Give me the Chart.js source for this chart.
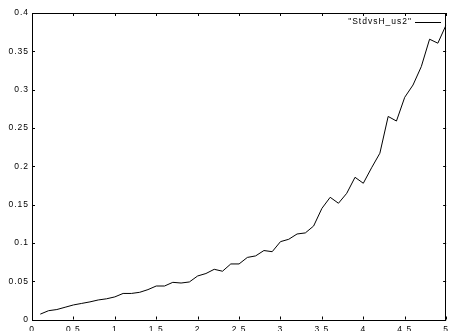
<!DOCTYPE html>
<html>
<head>
<meta charset="utf-8">
<script src="https://cdn.jsdelivr.net/npm/chart.js@4/dist/chart.umd.min.js"></script>
<style>
  html, body { margin: 0; padding: 0; background: #fff; }
  canvas { display: block; }
</style>
</head>
<body>
<canvas id="chart" width="454" height="331"></canvas>
<script>
// data (x step 0.1)
const xValues = [0.1, 0.2, 0.3, 0.4, 0.5, 0.6, 0.7, 0.8, 0.9, 1.0,
                 1.1, 1.2, 1.3, 1.4, 1.5, 1.6, 1.7, 1.8, 1.9, 2.0,
                 2.1, 2.2, 2.3, 2.4, 2.5, 2.6, 2.7, 2.8, 2.9, 3.0,
                 3.1, 3.2, 3.3, 3.4, 3.5, 3.6, 3.7, 3.8, 3.9, 4.0,
                 4.1, 4.2, 4.3, 4.4, 4.5, 4.6, 4.7, 4.8, 4.9, 5.0];
const stdValues = [0.007, 0.0115, 0.013, 0.016, 0.019, 0.021, 0.023, 0.0255, 0.027, 0.0295,
                   0.034, 0.034, 0.0355, 0.039, 0.0437, 0.0437, 0.0485, 0.0476, 0.049, 0.0568,
                   0.060, 0.0655, 0.063, 0.0725, 0.0725, 0.081, 0.083, 0.090, 0.0885, 0.1016,
                   0.1047, 0.1116, 0.113, 0.122, 0.145, 0.1595, 0.1517, 0.1647, 0.1856, 0.1778,
                   0.198, 0.217, 0.265, 0.259, 0.290, 0.306, 0.330, 0.3658, 0.3606, 0.3845];
const xTicks = [0, 0.5, 1, 1.5, 2, 2.5, 3, 3.5, 4, 4.5, 5];
const yTicks = [0, 0.05, 0.1, 0.15, 0.2, 0.25, 0.3, 0.35, 0.4];
const seriesLabel = '"StdvsH_us2"';

const FONT = { family: '"Liberation Sans", Arial, sans-serif', size: 8.5 };

// gnuplot-ish frame: box, inward ticks on all sides, key at top right
const gnuplotFrame = {
  id: 'gnuplotFrame',
  beforeLayout(chart) {
    chart.ctx.letterSpacing = '1px';
  },
  afterDraw(chart) {
    const ctx = chart.ctx;
    const a = chart.chartArea;
    const xs = chart.scales.x, ys = chart.scales.y;
    ctx.save();
    ctx.strokeStyle = '#000';
    ctx.lineWidth = 1;
    ctx.strokeRect(Math.round(a.left) + 0.5, Math.round(a.top) + 0.5,
                   Math.round(a.right - a.left) - 1, Math.round(a.bottom - a.top));
    ctx.beginPath();
    xs.ticks.forEach(t => {
      const px = Math.round(xs.getPixelForValue(t.value)) + 0.5;
      ctx.moveTo(px, a.bottom); ctx.lineTo(px, a.bottom - 3);
      ctx.moveTo(px, a.top); ctx.lineTo(px, a.top + 3);
    });
    ys.ticks.forEach(t => {
      const py = Math.round(ys.getPixelForValue(t.value)) + 0.5;
      ctx.moveTo(a.left, py); ctx.lineTo(a.left + 3, py);
      ctx.moveTo(a.right, py); ctx.lineTo(a.right - 3, py);
    });
    ctx.stroke();

    // key
    const ds = chart.data.datasets[0];
    ctx.font = FONT.size + 'px ' + FONT.family;
    ctx.letterSpacing = '1px';
    ctx.fillStyle = '#000';
    ctx.textAlign = 'right';
    ctx.textBaseline = 'middle';
    ctx.fillText(ds.label, 412, 22);
    ctx.beginPath();
    ctx.strokeStyle = ds.borderColor;
    ctx.moveTo(415, 22.5); ctx.lineTo(441, 22.5);
    ctx.stroke();
    ctx.restore();
  }
};

new Chart(document.getElementById('chart'), {
  type: 'line',
  data: {
    datasets: [{
      label: seriesLabel,
      data: xValues.map((x, i) => ({ x: x, y: stdValues[i] })),
      borderColor: '#000',
      borderWidth: 1,
      pointRadius: 0,
      tension: 0,
      fill: false
    }]
  },
  options: {
    responsive: false,
    animation: false,
    layout: { padding: { top: 13, right: 2, left: 0, bottom: 0 } },
    plugins: { legend: { display: false }, tooltip: { enabled: false } },
    scales: {
      x: {
        type: 'linear',
        min: 0, max: 5,
        afterBuildTicks(s) { s.ticks = xTicks.map(v => ({ value: v })); },
        afterFit(s) { s.height = 11.5; },
        grid: { display: false, drawTicks: false },
        border: { display: false },
        ticks: {
          padding: 5,
          color: '#000',
          font: FONT,
          maxRotation: 0,
          autoSkip: false,
          callback: v => String(v)
        }
      },
      y: {
        min: 0, max: 0.4,
        afterBuildTicks(s) { s.ticks = yTicks.map(v => ({ value: v })); },
        afterFit(s) { s.width = 32; },
        grid: { display: false, drawTicks: false },
        border: { display: false },
        ticks: {
          padding: 3,
          color: '#000',
          font: FONT,
          autoSkip: false,
          callback: v => String(v)
        }
      }
    }
  },
  plugins: [gnuplotFrame]
});
</script>
</body>
</html>
